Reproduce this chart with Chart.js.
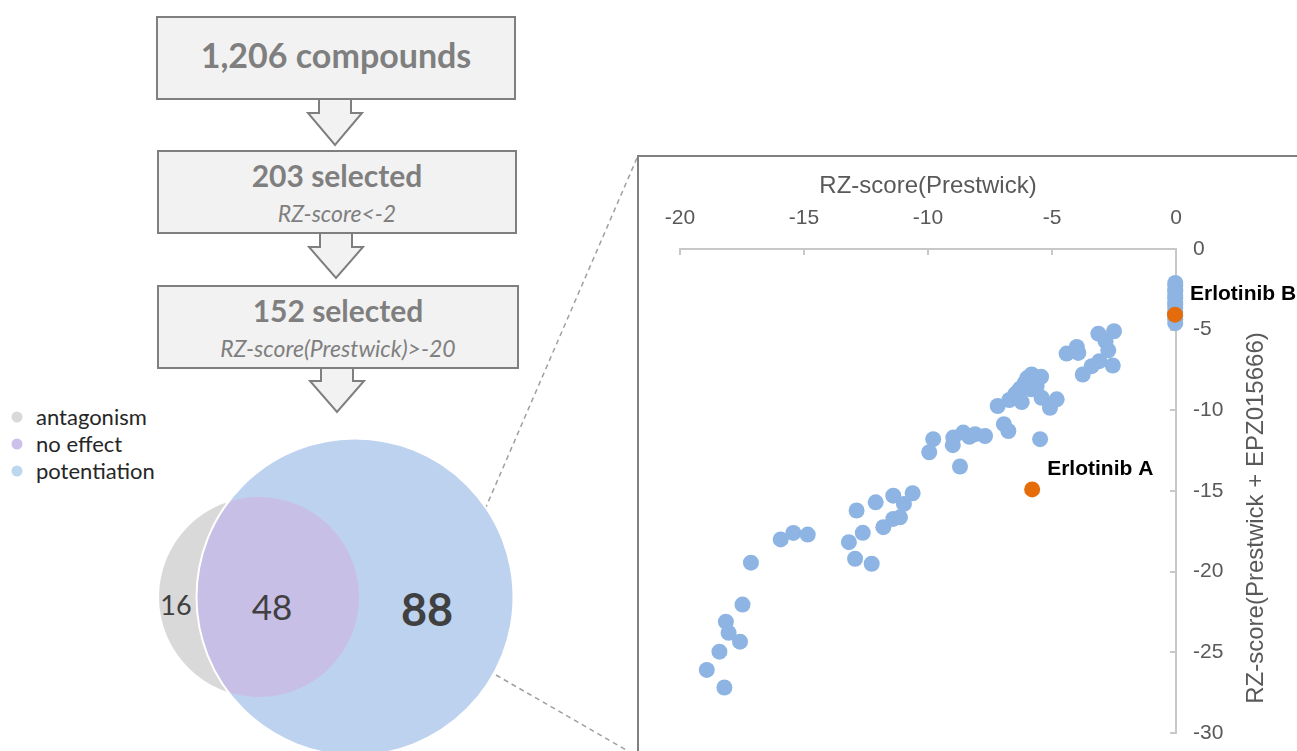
<!DOCTYPE html>
<html>
<head>
<meta charset="utf-8">
<script src="https://cdn.jsdelivr.net/npm/chart.js@4.4.1/dist/chart.umd.min.js"></script>
<style>
  body { margin: 0; background: #fff; overflow: hidden; }
  #page { position: relative; width: 1297px; height: 751px; overflow: hidden; }
  #page svg { position: absolute; left: 0; top: 0; }
  #zoomBox { position: absolute; left: 637px; top: 155px; width: 700px; height: 700px;
             border-top: 2px solid #808080; border-left: 2px solid #808080; }
  #chartWrap { position: absolute; left: 640px; top: 157px; }
</style>
</head>
<body>
<div id="page">
  <svg width="1297" height="751" font-family="Lato, 'Open Sans', sans-serif">
    <defs>
      <clipPath id="potClip"><circle cx="355" cy="597" r="158.5"/></clipPath>
    </defs>

    <!-- screening funnel -->
    <g stroke="#7f7f7f" stroke-width="2" fill="#f2f2f2">
      <rect x="157" y="17" width="358" height="82"/>
      <polygon points="319,99 351,99 351,113 362,113 335,145 308,113 319,113"/>
      <rect x="158" y="151" width="358" height="82"/>
      <polygon points="320,233 352,233 352,247 363,247 336,278 309,247 320,247"/>
      <rect x="158" y="286" width="360" height="82"/>
      <polygon points="321,368 353,368 353,381 364,381 337,412 310,381 321,381"/>
    </g>
    <g fill="#7f7f7f" text-anchor="middle">
      <text x="336" y="68" font-size="34" font-weight="bold">1,206 compounds</text>
      <text x="337" y="187" font-size="30" font-weight="bold">203 selected</text>
      <text x="337" y="222" font-size="23" font-style="italic">RZ-score&lt;-2</text>
      <text x="338" y="322" font-size="30" font-weight="bold">152 selected</text>
      <text x="338" y="357" font-size="23" font-style="italic">RZ-score(Prestwick)&gt;-20</text>
    </g>

    <!-- legend -->
    <circle cx="17" cy="417" r="5.5" fill="#d9d9d9"/>
    <circle cx="17" cy="444" r="5.5" fill="#cbc1ea"/>
    <circle cx="17" cy="471" r="5.5" fill="#bdd7ee"/>
    <g fill="#262626" font-size="22">
      <text x="36" y="425">antagonism</text>
      <text x="36" y="452">no effect</text>
      <text x="36" y="479">potentiation</text>
    </g>

    <!-- zoom lines -->
    <g stroke="#a0a0a0" stroke-width="1.5" stroke-dasharray="5 4">
      <line x1="637" y1="158" x2="486" y2="507"/>
      <line x1="496" y1="675" x2="640" y2="758"/>
    </g>

    <!-- venn -->
    <circle cx="259" cy="597" r="100" fill="#d9d9d9"/>
    <circle cx="355" cy="597" r="158.5" fill="#bdd2ee"/>
    <circle cx="259" cy="597" r="100" fill="#c8bfe6" clip-path="url(#potClip)"/>
    <circle cx="355" cy="597" r="158.5" fill="none" stroke="#fff" stroke-width="2"/>
    <g fill="#404040" text-anchor="middle">
      <text x="176" y="615" font-size="27">16</text>
      <text x="272" y="620" font-size="35">48</text>
      <text x="427" y="626" font-size="45" font-weight="bold">88</text>
    </g>
  </svg>
  <div id="zoomBox"></div>
  <div id="chartWrap"><canvas id="scatterChart" width="657" height="594"></canvas></div>
</div>

<script>
// RZ-score(Prestwick) -> x, RZ-score(Prestwick + EPZ015666) -> y
const potentiationX = [
  -18.92, -18.21, -18.41, -18.04, -18.15, -17.58, -17.48, -17.14, -15.94, -15.43, -14.85,
  -13.19, -12.94, -12.88, -12.63, -12.27, -12.11, -11.80, -11.40, -11.40, -11.13, -10.97, -10.62,
  -9.95, -9.79, -9.00, -8.98, -8.71, -8.58, -8.33, -8.10, -7.70,
  -7.19, -6.94, -6.76, -6.72, -6.49, -6.40, -6.29, -6.22, -6.09, -6.00, -5.95, -5.85, -5.82,
  -5.62, -5.48, -5.44, -5.42, -5.08, -4.81,
  -4.41, -4.00, -3.94, -3.76, -3.40, -3.13, -3.09, -2.84, -2.73, -2.55, -2.50,
  -0.03, -0.03, -0.03, -0.03, -0.03, -0.03, -0.03, -0.03, -0.03, -0.03, -0.03, -0.03, -0.03
];
const potentiationY = [
  -26.09, -27.18, -24.96, -23.79, -23.10, -24.34, -22.04, -19.44, -18.00, -17.60, -17.70,
  -18.17, -19.20, -16.21, -17.59, -19.51, -15.70, -17.24, -15.29, -16.73, -16.63, -15.80, -15.14,
  -12.60, -11.79, -12.16, -11.69, -13.48, -11.38, -11.64, -11.48, -11.59,
  -9.73, -10.86, -11.28, -9.36, -9.01, -8.90, -8.66, -9.49, -8.29, -8.00, -8.40, -8.70, -7.78,
  -8.50, -11.79, -7.92, -9.22, -9.84, -9.32,
  -6.48, -6.07, -6.44, -7.78, -7.26, -5.25, -6.95, -5.72, -6.28, -7.22, -5.10,
  -2.10, -2.25, -2.50, -2.65, -2.90, -3.05, -3.30, -3.45, -3.65, -3.90, -4.15, -4.35, -4.60
];
const erlotinibX = [-5.80, -0.04];
const erlotinibY = [-14.90, -4.07];
const erlotinibLabels = ['Erlotinib A', 'Erlotinib B'];
const xTickValues = [-20, -15, -10, -5, 0];
const yTickValues = [0, -5, -10, -15, -20, -25, -30];

const axisGray = '#c8c8c8';
const textGray = '#595959';
Chart.defaults.font.family = '"Liberation Sans", Arial, sans-serif';

// Erlotinib labels + y title (reads bottom to top, unlike chart.js right-axis titles)
const annotate = {
  id: 'annotate',
  afterDatasetsDraw(chart) {
    const ctx = chart.ctx;
    const meta = chart.getDatasetMeta(0);
    ctx.save();
    ctx.font = 'bold 21px "Liberation Sans", Arial, sans-serif';
    ctx.fillStyle = '#000';
    ctx.textBaseline = 'middle';
    meta.data.forEach((pt, i) => ctx.fillText(erlotinibLabels[i], pt.x + 15, pt.y - 20));

    const area = chart.chartArea;
    ctx.translate(area.right + 80, (area.top + area.bottom) / 2 + 27);
    ctx.rotate(-Math.PI / 2);
    ctx.font = '24px "Liberation Sans", Arial, sans-serif';
    ctx.fillStyle = textGray;
    ctx.textAlign = 'center';
    ctx.fillText('RZ-score(Prestwick + EPZ015666)', 0, 0);
    ctx.restore();
  }
};

new Chart(document.getElementById('scatterChart').getContext('2d'), {
  type: 'scatter',
  data: {
    datasets: [{
      label: 'Erlotinib',
      data: erlotinibX.map((x, i) => ({ x: x, y: erlotinibY[i] })),
      backgroundColor: '#e46c0a',
      borderWidth: 0,
      pointRadius: 8,
      clip: false,
      order: 0
    }, {
      label: 'potentiation',
      data: potentiationX.map((x, i) => ({ x: x, y: potentiationY[i] })),
      backgroundColor: '#8db4e2',
      borderWidth: 0,
      pointRadius: 8,
      clip: false,
      order: 1
    }]
  },
  options: {
    responsive: false,
    animation: false,
    devicePixelRatio: 1,
    layout: { padding: { left: 40, right: 0, top: 0, bottom: 18 } },
    plugins: { legend: { display: false }, tooltip: { enabled: false } },
    scales: {
      x: {
        type: 'linear',
        position: 'top',
        min: -20,
        max: 0,
        afterBuildTicks: (scale) => { scale.ticks = xTickValues.map(v => ({ value: v })); },
        afterFit: (scale) => { scale.height = 92; },
        ticks: { color: textGray, font: { size: 21 }, padding: 24 },
        grid: { drawOnChartArea: false, tickLength: -6, color: axisGray, lineWidth: 2 },
        border: { color: axisGray, width: 2 },
        title: {
          display: true,
          text: 'RZ-score(Prestwick)',
          color: textGray,
          font: { size: 24 },
          padding: { top: 15, bottom: 0 }
        }
      },
      y: {
        type: 'linear',
        position: 'right',
        min: -30,
        max: 0,
        afterBuildTicks: (scale) => { scale.ticks = yTickValues.map(v => ({ value: v })); },
        afterFit: (scale) => {
          scale.width = 121;
          // tick padding would otherwise be added below the plot
          scale.paddingTop = 0;
          scale.paddingBottom = 0;
        },
        ticks: { color: textGray, font: { size: 21 }, padding: 23 },
        grid: { drawOnChartArea: false, tickLength: -6, color: axisGray, lineWidth: 2 },
        border: { color: axisGray, width: 2 }
      }
    }
  },
  plugins: [annotate]
});
</script>
</body>
</html>
